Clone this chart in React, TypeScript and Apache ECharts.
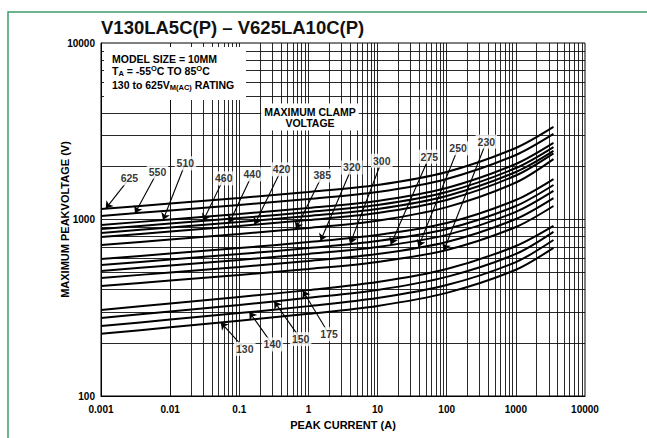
import React, { useEffect, useRef } from "react";
import * as echarts from "echarts";

const FONT = "'Liberation Sans', Arial, Helvetica, sans-serif";

// Peak current sample points (A)
const CURRENT_A = [0.001, 0.01, 0.1, 1, 10, 100, 1000, 3500];

// Maximum peak voltage (V) per model rating
const V625 = [1147, 1232, 1324, 1431, 1569, 1859, 2542, 3344];
const V550 = [1047, 1125, 1208, 1307, 1432, 1697, 2320, 3052];
const V510 = [931, 1000, 1074, 1162, 1274, 1509, 2063, 2714];
const V460 = [883, 949, 1019, 1102, 1208, 1431, 1957, 2574];
const V440 = [839, 901, 968, 1047, 1148, 1360, 1859, 2446];
const V420 = [796, 855, 919, 993, 1089, 1290, 1775, 2370];
const V385 = [717, 770, 828, 896, 985, 1175, 1620, 2200];
const V320 = [597, 641, 689, 745, 817, 955, 1290, 1695];
const V300 = [552, 593, 637, 689, 755, 883, 1192, 1568];
const V275 = [511, 549, 590, 638, 699, 818, 1104, 1451];
const V250 = [466, 501, 538, 582, 637, 746, 1007, 1323];
const V230 = [420, 451, 485, 524, 575, 672, 907, 1193];
const V175 = [307, 334, 364, 398, 442, 524, 708, 920];
const V150 = [277, 301, 328, 360, 399, 473, 638, 851];
const V140 = [249, 271, 295, 323, 359, 425, 574, 765];
const V130 = [225, 245, 267, 292, 324, 384, 519, 691];

const RATINGS = ["625", "550", "510", "460", "440", "420", "385", "320", "300", "275", "250", "230", "175", "150", "140", "130"];
const CURVES = [V625, V550, V510, V460, V440, V420, V385, V320, V300, V275, V250, V230, V175, V150, V140, V130];

// Callout label anchors (data coords) and arrow-tip currents
const LABEL_I = [0.00258, 0.00656, 0.0166, 0.0596, 0.154, 0.409, 1.585, 4.25, 11.5, 56, 146, 374, 1.99, 0.773, 0.301, 0.12];
const LABEL_V = [1710, 1866, 2081, 1710, 1803, 1925, 1776, 1971, 2153, 2269, 2532, 2760, 224, 210, 196, 185];
const TIP_I = [0.00117, 0.0031, 0.0079, 0.03, 0.072, 0.166, 0.66, 1.5, 4.0, 15.5, 39, 91, 0.83, 0.32, 0.14, 0.054];

const X_TICK_LABELS = ["0.001", "0.01", "0.1", "1", "10", "100", "1000", "10000"];
const Y_TICK_LABELS = ["100", "1000", "10000"];

function voltageAt(values: number[], current: number) {
  const lx = Math.log10(current);
  const xs = CURRENT_A.map((c) => Math.log10(c));
  for (let i = 0; i < xs.length - 1; i++) {
    if (lx <= xs[i + 1] || i === xs.length - 2) {
      const t = (lx - xs[i]) / (xs[i + 1] - xs[i]);
      const ly = Math.log10(values[i]) + t * (Math.log10(values[i + 1]) - Math.log10(values[i]));
      return Math.pow(10, ly);
    }
  }
  return values[0];
}

function logGrid(minExp: number, maxExp: number, lo: number, hi: number) {
  const out: number[] = [];
  for (let e = minExp; e <= maxExp; e++) {
    for (let m = 1; m <= 9; m++) {
      const v = m * Math.pow(10, e);
      if (v > lo * 1.0001 && v < hi * 0.9999) out.push(v);
    }
  }
  return out;
}

export default function App() {
  const ref = useRef<HTMLDivElement>(null);

  useEffect(() => {
    const chart = echarts.init(ref.current!, null, { renderer: "svg" });

    const xGrid = logGrid(-3, 3, 0.001, 10000);
    const yGrid = logGrid(2, 3, 100, 10000);

    const gridSeries: any = {
      type: "line",
      data: [[1, 1000]],
      symbol: "none",
      silent: true,
      lineStyle: { width: 0 },
      z: 1,
      markLine: {
        silent: true,
        z: 1,
        symbol: ["none", "none"],
        label: { show: false },
        emphasis: { disabled: true },
        lineStyle: { color: "#111", width: 0.9, type: "solid" },
        data: [...xGrid.map((v) => ({ xAxis: v })), ...yGrid.map((v) => ({ yAxis: v }))],
      },
    };

    const curveSeries = CURVES.map((vals, i) => ({
      type: "line",
      name: RATINGS[i],
      data: CURRENT_A.map((c, j) => [c, vals[j]]),
      smooth: 0.3,
      symbol: "none",
      silent: true,
      z: 3,
      emphasis: { disabled: true },
      lineStyle: { color: "#000", width: 2 },
      markLine: {
        silent: true,
        z: 6,
        symbol: ["none", "arrow"],
        symbolSize: 7,
        label: { show: false },
        emphasis: { disabled: true },
        lineStyle: { color: "#000", width: 1.1, type: "solid" },
        data: [
          [
            { coord: [LABEL_I[i], LABEL_V[i]] },
            { coord: [TIP_I[i], voltageAt(vals, TIP_I[i])] },
          ],
        ],
      },
    }));

    const labelSeries: any = {
      type: "scatter",
      z: 10,
      silent: true,
      symbol: "rect",
      symbolSize: 1,
      itemStyle: { color: "transparent" },
      data: RATINGS.map((r, i) => ({ value: [LABEL_I[i], LABEL_V[i]], name: r })),
      label: {
        show: true,
        position: "inside",
        formatter: (p: any) => p.name,
        color: "#000",
        fontWeight: "bold",
        fontSize: 10.5,
        fontFamily: FONT,
        backgroundColor: "#fff",
        padding: [2, 2, 1, 2],
      },
    };

    const axisText = { color: "#000", fontWeight: "bold", fontSize: 10, fontFamily: FONT };
    const nameText = { color: "#000", fontWeight: "bold", fontSize: 11, fontFamily: FONT };
    const rn = { fontSize: 10.5, fontWeight: "bold", fontFamily: FONT, color: "#000", lineHeight: 13, verticalAlign: "middle" };
    const rs = { fontSize: 7.5, fontWeight: "bold", fontFamily: FONT, color: "#000", lineHeight: 6, verticalAlign: "bottom" };
    const rp = { fontSize: 7.5, fontWeight: "bold", fontFamily: FONT, color: "#000", lineHeight: 6, verticalAlign: "top" };

    const option: any = {
      animation: false,
      backgroundColor: "#fff",
      grid: { left: 101, top: 43, width: 484, height: 353, show: true, borderColor: "#000", borderWidth: 1, backgroundColor: "transparent" },
      xAxis: {
        type: "log",
        logBase: 10,
        min: 0.001,
        max: 10000,
        splitNumber: 7,
        name: "PEAK CURRENT (A)",
        nameLocation: "middle",
        nameGap: 23,
        nameMoveOverlap: false,
        nameTextStyle: nameText,
        axisLine: { show: true, lineStyle: { color: "#000", width: 1 } },
        axisTick: { show: false },
        splitLine: { show: false },
        axisLabel: {
          ...axisText,
          margin: 8,
          formatter: (v: number) => X_TICK_LABELS[Math.round(Math.log10(v)) + 3],
        },
      },
      yAxis: {
        type: "log",
        logBase: 10,
        min: 100,
        max: 10000,
        name: "MAXIMUM PEAKVOLTAGE (V)",
        nameLocation: "middle",
        nameGap: 31,
        nameMoveOverlap: false,
        nameRotate: 90,
        nameTextStyle: nameText,
        axisLine: { show: true, lineStyle: { color: "#000", width: 1 } },
        axisTick: { show: false },
        splitLine: { show: false },
        axisLabel: {
          ...axisText,
          margin: 6,
          formatter: (v: number) => Y_TICK_LABELS[Math.round(Math.log10(v)) - 2],
        },
      },
      series: [gridSeries, ...curveSeries, labelSeries],
      graphic: [
        {
          type: "rect",
          silent: true,
          z: 0,
          shape: { x: 8, y: 12, width: 800, height: 600 },
          style: { fill: "none", stroke: "#3d9b6c", lineWidth: 1.5 },
        },
        {
          type: "text",
          silent: true,
          x: 101,
          y: 27,
          style: { text: "V130LA5C(P) – V625LA10C(P)", font: `bold 18.5px ${FONT}`, fill: "#111", textVerticalAlign: "middle", verticalAlign: "middle" },
        },
        {
          type: "rect",
          silent: true,
          z: 20,
          shape: { x: 104, y: 47, width: 142, height: 53 },
          style: { fill: "#fff" },
        },
        {
          type: "text",
          silent: true,
          z: 21,
          x: 112,
          y: 59,
          style: { text: "MODEL SIZE = 10MM", font: `bold 10.5px ${FONT}`, fill: "#000", textVerticalAlign: "middle", verticalAlign: "middle" },
        },
        {
          type: "text",
          silent: true,
          z: 21,
          x: 112,
          y: 71,
          style: {
            text: "{n|T}{s|A}{n| = -55}{p|O}{n|C TO 85}{p|O}{n|C}",
            rich: { n: rn, s: rs, p: rp },
            textVerticalAlign: "middle",
            verticalAlign: "middle",
          },
        },
        {
          type: "text",
          silent: true,
          z: 21,
          x: 112,
          y: 85,
          style: {
            text: "{n|130 to 625V}{s|M(AC)}{n| RATING}",
            rich: { n: rn, s: rs },
            textVerticalAlign: "middle",
            verticalAlign: "middle",
          },
        },
        {
          type: "text",
          silent: true,
          z: 21,
          x: 310,
          y: 117,
          style: {
            text: "MAXIMUM CLAMP\nVOLTAGE",
            font: `bold 10.5px ${FONT}`,
            fill: "#000",
            lineHeight: 11,
            textAlign: "center",
            align: "center",
            textVerticalAlign: "middle",
            verticalAlign: "middle",
            backgroundColor: "#fff",
            padding: [3, 3, 2, 3],
          },
        },
      ],
    };

    chart.setOption(option);
    return () => chart.dispose();
  }, []);

  return <div ref={ref} style={{ position: "fixed", left: 0, top: 0, width: 647, height: 438, background: "#fff" }} />;
}
